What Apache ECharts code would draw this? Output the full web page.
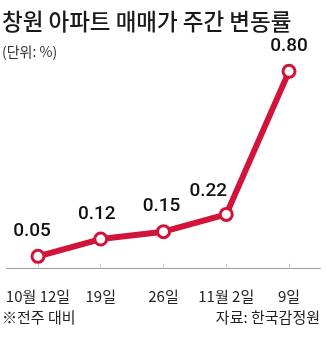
<!DOCTYPE html>
<html>
<head>
<meta charset="utf-8">
<script src="https://cdn.jsdelivr.net/npm/echarts@6/dist/echarts.min.js"></script>
<style>
  html, body { margin: 0; padding: 0; background: #fff; }
  #chart { width: 326px; height: 348px; }
</style>
</head>
<body>
<div id="chart"></div>
<script>
// Weekly change in Changwon apartment sale prices (%)
const weeks = ['10월 12일', '19일', '26일', '11월 2일', '9일'];
const changeRates = [0.05, 0.12, 0.15, 0.22, 0.80];

// label nudges so the value text clears the line
const labelShift = [[-6, 0], [-4, 0], [-2, 0], [-18, 2], [0, 0]];

const RED = '#d2143a';
const FONT = '"Noto Sans CJK KR", "Noto Sans", sans-serif';

const chart = echarts.init(document.getElementById('chart'), null, { renderer: 'canvas' });

chart.setOption({
  animation: false,
  backgroundColor: '#fff',
  title: [
    {
      text: '창원 아파트 매매가 주간 변동률',
      left: 2, top: 10, padding: 0,
      textStyle: { fontFamily: FONT, fontSize: 22.5, fontWeight: 500, color: '#1a1a1a' }
    },
    {
      text: '(단위: %)',
      left: 2, top: 45, padding: 0,
      textStyle: { fontFamily: FONT, fontSize: 14, fontWeight: 'normal', color: '#333' }
    },
    {
      text: '※전주 대비',
      left: 2, top: 310, padding: 0,
      textStyle: { fontFamily: FONT, fontSize: 15, fontWeight: 'normal', color: '#222' }
    },
    {
      text: '자료: 한국감정원',
      right: 6, top: 310, padding: 0,
      textStyle: { fontFamily: FONT, fontSize: 15, fontWeight: 'normal', color: '#222' }
    }
  ],
  grid: { left: 6.6, right: 5.6, top: 59, bottom: 67, containLabel: false },
  xAxis: {
    type: 'category',
    data: weeks,
    boundaryGap: true,
    axisLine: { lineStyle: { color: '#9a9a9a', width: 1 } },
    axisTick: { show: true, alignWithLabel: true, inside: true, length: 5, lineStyle: { color: '#c8c8c8' } },
    axisLabel: { fontFamily: FONT, fontSize: 15, color: '#222', margin: 8, interval: 0 }
  },
  yAxis: {
    type: 'value',
    min: -0.05,
    max: 0.85,
    show: false,
    splitLine: { show: false }
  },
  series: [{
    type: 'line',
    data: changeRates.map((v, i) => ({
      value: v,
      label: { offset: labelShift[i] }
    })),
    lineStyle: { color: RED, width: 6 },
    symbol: 'circle',
    symbolSize: 12,
    itemStyle: { color: '#fff', borderColor: RED, borderWidth: 3 },
    label: {
      show: true,
      position: 'top',
      distance: 8,
      formatter: p => p.value.toFixed(2),
      fontFamily: 'Roboto, "Noto Sans", sans-serif',
      fontSize: 19,
      fontWeight: 500,
      color: '#111'
    },
    z: 3
  }]
});
</script>
</body>
</html>
